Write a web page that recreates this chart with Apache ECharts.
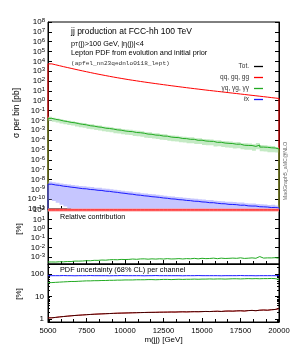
<!DOCTYPE html>
<html><head><meta charset="utf-8">
<script src="https://cdn.jsdelivr.net/npm/echarts@6.0.0/dist/echarts.min.js"></script>
<style>html,body{margin:0;padding:0;background:#fff;}#chart{width:293px;height:351px;}</style>
</head><body><div id="chart"></div>
<script>
// ---------------- data ----------------
const M_MIN = 5000, M_MAX = 20000, BIN_W = 250;
const xTickLabels = [5000, 7500, 10000, 12500, 15000, 17500, 20000];
const legendNames = ['Tot.', 'qq, gq, gg', 'γq, γg, γγ', 'ℓx'];

// sigma per bin [pb]
const sigQQ = [5.55e3, 4.48e3, 3.62e3, 2.92e3, 2.38e3, 1.95e3, 1.59e3, 1.30e3, 1.07e3, 883,
  731, 604, 505, 425, 357, 301, 255, 218, 187, 160,
  138, 120, 105, 91.2, 79.9, 70.4, 62.0, 54.6, 48.3, 42.8,
  37.9, 33.6, 29.9, 26.6, 23.7, 21.1, 18.9, 16.9, 15.2, 13.6,
  12.2, 11.0, 9.94, 8.96, 8.08, 7.29, 6.57, 5.92, 5.34, 4.81,
  4.34, 3.91, 3.53, 3.18, 2.87, 2.59, 2.33, 2.10, 1.89, 1.71];
const sigGam = [1.62e-2, 1.29e-2, 1.12e-2, 8.91e-3, 7.76e-3, 6.31e-3, 5.75e-3, 4.68e-3, 3.98e-3, 3.55e-3,
  2.88e-3, 2.63e-3, 2.19e-3, 2.00e-3, 1.62e-3, 1.51e-3, 1.32e-3, 1.10e-3, 1.02e-3, 8.51e-4,
  7.59e-4, 7.24e-4, 5.89e-4, 5.62e-4, 5.01e-4, 4.07e-4, 3.89e-4, 3.24e-4, 3.09e-4, 2.57e-4,
  2.51e-4, 2.04e-4, 1.86e-4, 1.78e-4, 1.45e-4, 1.41e-4, 1.20e-4, 1.20e-4, 9.55e-5, 9.77e-5,
  8.13e-5, 7.59e-5, 7.41e-5, 5.89e-5, 6.03e-5, 5.01e-5, 4.68e-5, 4.47e-5, 3.80e-5, 3.89e-5,
  3.02e-5, 2.88e-5, 2.82e-5, 2.29e-5, 3.16e-5, 1.95e-5, 1.86e-5, 1.66e-5, 1.58e-5, 1.26e-5];
const sigLep = [3.31e-9, 2.75e-9, 2.51e-9, 2.09e-9, 1.91e-9, 1.66e-9, 1.51e-9, 1.32e-9, 1.17e-9, 1.12e-9,
  9.55e-10, 9.12e-10, 7.94e-10, 7.59e-10, 6.46e-10, 6.17e-10, 5.37e-10, 4.90e-10, 4.27e-10, 3.89e-10,
  3.39e-10, 3.16e-10, 2.69e-10, 2.51e-10, 2.19e-10, 2.04e-10, 1.78e-10, 1.66e-10, 1.51e-10, 1.32e-10,
  1.23e-10, 1.07e-10, 1.02e-10, 8.91e-11, 8.51e-11, 7.41e-11, 7.08e-11, 6.17e-11, 6.03e-11, 5.25e-11,
  5.01e-11, 4.37e-11, 4.37e-11, 3.80e-11, 3.47e-11, 3.39e-11, 2.95e-11, 2.88e-11, 2.75e-11, 2.40e-11,
  2.45e-11, 2.09e-11, 2.00e-11, 2.00e-11, 1.70e-11, 1.66e-11, 1.58e-11, 1.41e-11, 1.45e-11, 1.26e-11];
// lower edge of the lx band [pb]
const sigLepLow = [1.0e-10, 6.5e-11, 4.2e-11, 2.7e-11, 1.8e-11, 1.15e-11, 7.5e-12, 5.0e-12, 3.4e-12, 2.4e-12,
  1.7e-12, 1.2e-12, 9e-13, 7e-13, 5e-13, 4e-13, 3e-13, 3e-13, 2e-13, 2e-13,
  2e-13, 1e-13, 1e-13, 1e-13, 1e-13, 1e-13, 1e-13, 1e-13, 1e-13, 1e-13,
  1e-13, 1e-13, 1e-13, 1e-13, 1e-13, 1e-13, 1e-13, 1e-13, 1e-13, 1e-13,
  1e-13, 1e-13, 1e-13, 1e-13, 1e-13, 1e-13, 1e-13, 1e-13, 1e-13, 1e-13,
  1e-13, 1e-13, 1e-13, 1e-13, 1e-13, 1e-13, 1e-13, 1e-13, 1e-13, 1e-13];

// relative contribution [%]
const relQQ = [99.99, 99.99, 99.99, 99.99, 99.99, 99.99, 99.99, 99.99, 99.99, 99.99,
  99.99, 99.99, 99.99, 99.99, 99.99, 99.99, 99.99, 99.99, 99.99, 99.99,
  99.99, 99.99, 99.99, 99.99, 99.99, 99.99, 99.99, 99.99, 99.99, 99.99,
  99.99, 99.99, 99.99, 99.99, 99.99, 99.99, 99.99, 99.99, 99.99, 99.99,
  99.99, 99.99, 99.99, 99.99, 99.99, 99.99, 99.99, 99.99, 99.99, 99.99,
  99.99, 99.99, 99.99, 99.99, 99.99, 99.99, 99.99, 99.99, 99.99, 99.99];
const relGam = [2.92e-4, 2.88e-4, 3.10e-4, 3.05e-4, 3.27e-4, 3.24e-4, 3.62e-4, 3.60e-4, 3.72e-4, 4.02e-4,
  3.94e-4, 4.36e-4, 4.34e-4, 4.70e-4, 4.54e-4, 5.04e-4, 5.18e-4, 5.02e-4, 5.48e-4, 5.32e-4,
  5.50e-4, 6.03e-4, 5.62e-4, 6.17e-4, 6.27e-4, 5.79e-4, 6.27e-4, 5.92e-4, 6.40e-4, 6.01e-4,
  6.62e-4, 6.08e-4, 6.24e-4, 6.68e-4, 6.10e-4, 6.68e-4, 6.37e-4, 7.10e-4, 6.30e-4, 7.18e-4,
  6.65e-4, 6.88e-4, 7.46e-4, 6.57e-4, 7.46e-4, 6.88e-4, 7.12e-4, 7.54e-4, 7.12e-4, 8.08e-4,
  6.96e-4, 7.37e-4, 7.99e-4, 7.20e-4, 1.10e-3, 7.54e-4, 7.99e-4, 7.90e-4, 8.37e-4, 7.37e-4];

// PDF uncertainty (68% CL) per channel [%]
const uncTot = [1.15, 1.2, 1.26, 1.31, 1.36, 1.41, 1.46, 1.5, 1.54, 1.58,
  1.62, 1.66, 1.69, 1.72, 1.75, 1.78, 1.81, 1.84, 1.86, 1.88,
  1.9, 1.92, 1.94, 1.96, 1.98, 2.0, 2.01, 2.02, 2.04, 2.05,
  2.06, 2.08, 2.07, 2.1, 2.12, 2.1, 2.13, 2.15, 2.14, 2.17,
  2.2, 2.18, 2.22, 2.25, 2.2, 2.28, 2.3, 2.27, 2.33, 2.36,
  2.3, 2.4, 2.45, 2.38, 2.5, 2.55, 2.5, 2.62, 2.7, 2.95];
const uncQQ = [1.15, 1.2, 1.26, 1.31, 1.36, 1.41, 1.46, 1.5, 1.54, 1.58,
  1.62, 1.66, 1.69, 1.72, 1.75, 1.78, 1.81, 1.84, 1.86, 1.88,
  1.9, 1.92, 1.94, 1.96, 1.98, 2.0, 2.01, 2.02, 2.04, 2.05,
  2.06, 2.08, 2.07, 2.1, 2.12, 2.1, 2.13, 2.15, 2.14, 2.17,
  2.2, 2.18, 2.22, 2.25, 2.2, 2.28, 2.3, 2.27, 2.33, 2.36,
  2.3, 2.4, 2.45, 2.38, 2.5, 2.55, 2.5, 2.62, 2.7, 2.95];
const uncGam = [42, 43, 44, 45, 46, 47, 47, 48, 49, 50,
  50, 51, 51, 52, 52, 53, 53, 54, 54, 55,
  55, 55, 56, 56, 56, 57, 57, 56, 57, 58,
  58, 57, 58, 59, 58, 59, 59, 60, 59, 60,
  60, 61, 60, 61, 61, 60, 61, 62, 62, 61,
  62, 63, 62, 63, 62, 63, 63, 64, 63, 57];
const uncLep = [85, 85, 85, 86, 85, 85, 84, 85, 85, 85,
  86, 85, 85, 85, 85, 84, 85, 85, 86, 85,
  85, 85, 85, 85, 84, 85, 85, 86, 85, 85,
  85, 85, 85, 85, 84, 85, 85, 85, 86, 85,
  85, 85, 85, 85, 84, 85, 85, 85, 85, 86,
  85, 85, 85, 84, 85, 85, 85, 85, 85, 85];

// ---------------- helpers ----------------
const FF = '"Liberation Sans", Arial, Helvetica, sans-serif';
const edges = [];
for (let i = 0; i <= sigQQ.length; i++) edges.push(M_MIN + i * BIN_W);
const FLOOR = 1e-12;   // below the main panel's axis minimum: histogram drops to zero at the edges
const C_RED = '#ff0000', C_GREEN = '#22aa22', C_BLUE = '#1a1aff';

function steps(vals, drop) {
  const d = drop ? [[edges[0], FLOOR]] : [];
  vals.forEach((v, i) => { d.push([edges[i], v]); d.push([edges[i + 1], v]); });
  if (drop) d.push([edges[vals.length], FLOOR]);
  return d;
}
function lineS(name, xi, yi, vals, color, width, opacity, drop) {
  return { type: 'line', name, xAxisIndex: xi, yAxisIndex: yi, data: steps(vals, drop),
    showSymbol: false, symbol: 'none', clip: true, silent: true,
    lineStyle: { color, width: width || 1, opacity: opacity == null ? 1 : opacity },
    itemStyle: { color } };
}
function bandS(name, xi, yi, lo, hi, color) {
  return { type: 'custom', name, xAxisIndex: xi, yAxisIndex: yi, clip: true, silent: true,
    data: [[12500, 1]],
    renderItem: function (params, api) {
      const pts = [];
      for (let i = 0; i < hi.length; i++) { pts.push(api.coord([edges[i], hi[i]])); pts.push(api.coord([edges[i + 1], hi[i]])); }
      for (let i = lo.length - 1; i >= 0; i--) { pts.push(api.coord([edges[i + 1], lo[i]])); pts.push(api.coord([edges[i], lo[i]])); }
      return { type: 'polygon', shape: { points: pts }, style: { fill: color } };
    } };
}
const gamHi = sigGam.map((v, i) => v * (1 + uncGam[i] / 100));
const gamLo = sigGam.map((v, i) => v * (1 - uncGam[i] / 100));
const lepHi = sigLep.map((v, i) => v * (1 + uncLep[i] / 100));

function powLabel(v) {
  const l = Math.log10(v), e = Math.round(l);
  if (Math.abs(l - e) > 1e-6) return '';
  return '{b|10}{s|' + e + '}';
}
function plainPow(v) {
  const l = Math.log10(v), e = Math.round(l);
  if (Math.abs(l - e) > 1e-6) return '';
  return String(Math.round(v));
}
const powRich = {
  b: { fontSize: 8, fontFamily: FF, color: '#000', lineHeight: 9, verticalAlign: 'middle' },
  s: { fontSize: 6, fontFamily: FF, color: '#000', lineHeight: 6, verticalAlign: 'top' }
};

const GL = 48, GW = 231;
const grids = [
  { left: GL, top: 22, width: GW, height: 187 },
  { left: GL, top: 209, width: GW, height: 55 },
  { left: GL, top: 264, width: GW, height: 58 }
].map(g => Object.assign(g, { show: true, borderColor: '#000', borderWidth: 1, backgroundColor: 'transparent' }));

function xAx(gi, labels) {
  return { type: 'value', gridIndex: gi, min: M_MIN, max: M_MAX, interval: 2500,
    axisLine: { show: true, lineStyle: { color: '#000', width: 1 } },
    axisTick: { show: true, inside: true, length: 4, lineStyle: { color: '#000' } },
    minorTick: { show: true, splitNumber: 3, length: 3, lineStyle: { color: '#000' } },
    splitLine: { show: false }, minorSplitLine: { show: false },
    axisLabel: { show: labels, fontSize: 7.7, fontFamily: FF, color: '#000', margin: 5,
      showMinLabel: true, showMaxLabel: true,
      formatter: v => (xTickLabels.indexOf(v) >= 0 ? String(v) : '') },
    name: labels ? 'm(jj) [GeV]' : '', nameLocation: 'middle', nameGap: 14,
    nameTextStyle: { fontSize: 8, fontFamily: FF, color: '#000', padding: [0, 0, 0, 0] } };
}
function yAx(gi, pos, min, max, extra, labelCfg) {
  return Object.assign({ type: 'log', logBase: 10, gridIndex: gi, position: pos, min, max,
    axisLine: { show: true, lineStyle: { color: '#000', width: 1 } },
    axisTick: { show: true, inside: true, length: 4, lineStyle: { color: '#000' } },
    splitLine: { show: false },
    axisLabel: labelCfg || { show: false } }, extra || {});
}
const lblPow = { show: true, margin: 3, formatter: powLabel, rich: powRich, fontFamily: FF, showMinLabel: true, showMaxLabel: true, hideOverlap: false };
const lblPlain = { show: true, margin: 4, formatter: plainPow, fontSize: 8, fontFamily: FF, color: '#000' };

const option = {
  animation: false,
  backgroundColor: '#fff',
  grid: grids,
  xAxis: [xAx(0, false), xAx(1, false), xAx(2, true)],
  yAxis: [
    yAx(0, 'left', 1e-11, 1e8, { interval: 1 }, lblPow),
    yAx(0, 'right', 1e-11, 1e8, { interval: 1 }),
    yAx(1, 'left', 1.78e-4, 126, {}, lblPow),
    yAx(1, 'right', 1.78e-4, 126, {}),
    yAx(2, 'left', 0.75, 280, { minorTick: { show: true, splitNumber: 9, length: 2, lineStyle: { color: '#000' } } }, lblPlain),
    yAx(2, 'right', 0.75, 280, { minorTick: { show: true, splitNumber: 9, length: 2, lineStyle: { color: '#000' } } })
  ],
  legend: {
    data: legendNames.map(n => ({ name: n, icon: 'rect' })),
    orient: 'vertical', align: 'right', right: 25, top: 57,
    itemWidth: 9, itemHeight: 1.3, itemGap: 2, selectedMode: false,
    textStyle: { fontSize: 6.5, fontFamily: FF, color: '#333', lineHeight: 9 }
  },
  series: [
    bandS('gamBand', 0, 0, gamLo, gamHi, '#c4eac4'),
    bandS('lepBand', 0, 0, sigLepLow, lepHi, '#c6c6ff'),
    lineS('qq, gq, gg', 0, 0, sigQQ, C_RED, 1, 1, true),
    lineS('γq, γg, γγ', 0, 0, sigGam, C_GREEN, 1, 1, true),
    lineS('ℓx', 0, 0, sigLep, C_BLUE, 1, 1, true),
    lineS('qqBand', 1, 2, relQQ, '#ff9c9c', 3),
    lineS('qq, gq, gg', 1, 2, relQQ, C_RED),
    lineS('γq, γg, γγ', 1, 2, relGam, C_GREEN),
    lineS('ℓx', 2, 4, uncLep, C_BLUE),
    lineS('γq, γg, γγ', 2, 4, uncGam, C_GREEN),
    lineS('qq, gq, gg', 2, 4, uncQQ, C_RED),
    lineS('Tot.', 2, 4, uncTot, '#000000', 1, 0.75)
  ],
  graphic: [
    { type: 'text', x: 71, y: 32, style: { text: 'jj production at FCC-hh 100 TeV', fontSize: 8.5, fontFamily: FF, fill: '#000', verticalAlign: 'middle' } },
    { type: 'text', x: 71, y: 44, style: { text: 'p{s|T}(j)>100 GeV, |η(j)|<4', fontSize: 7.3, fontFamily: FF, fill: '#000', verticalAlign: 'middle',
        rich: { s: { fontSize: 5.3, fontFamily: FF, verticalAlign: 'bottom', lineHeight: 6 } } } },
    { type: 'text', x: 71, y: 53, style: { text: 'Lepton PDF from evolution and initial prior', fontSize: 7.3, fontFamily: FF, fill: '#000', verticalAlign: 'middle' } },
    { type: 'text', x: 71, y: 63, style: { text: '(apfel_nn23qednlo0118_lept)', fontSize: 6.1, fontFamily: '"Liberation Mono", "DejaVu Sans Mono", monospace', fill: '#333', verticalAlign: 'middle' } },
    { type: 'text', x: 60, y: 217, style: { text: 'Relative contribution', fontSize: 7.2, fontFamily: FF, fill: '#000', verticalAlign: 'middle' } },
    { type: 'text', x: 60, y: 270, style: { text: 'PDF uncertainty (68% CL) per channel', fontSize: 7.3, fontFamily: FF, fill: '#000', verticalAlign: 'middle' } },
    { type: 'text', x: 17, y: 113, rotation: Math.PI / 2, style: { text: 'σ per bin [pb]', fontSize: 8.5, fontFamily: FF, fill: '#000', align: 'center', verticalAlign: 'middle' } },
    { type: 'text', x: 19, y: 229, rotation: Math.PI / 2, style: { text: '[%]', fontSize: 8, fontFamily: FF, fill: '#000', align: 'center', verticalAlign: 'middle' } },
    { type: 'text', x: 19, y: 294, rotation: Math.PI / 2, style: { text: '[%]', fontSize: 8, fontFamily: FF, fill: '#000', align: 'center', verticalAlign: 'middle' } },
    { type: 'text', x: 286, y: 171, rotation: Math.PI / 2, style: { text: 'MadGraph5_aMC@NLO', fontSize: 5.3, fontFamily: FF, fill: '#666', align: 'center', verticalAlign: 'middle' } }
  ]
};
const chart = echarts.init(document.getElementById('chart'), null, { renderer: 'canvas' });
chart.setOption(option);
</script>
</body></html>
